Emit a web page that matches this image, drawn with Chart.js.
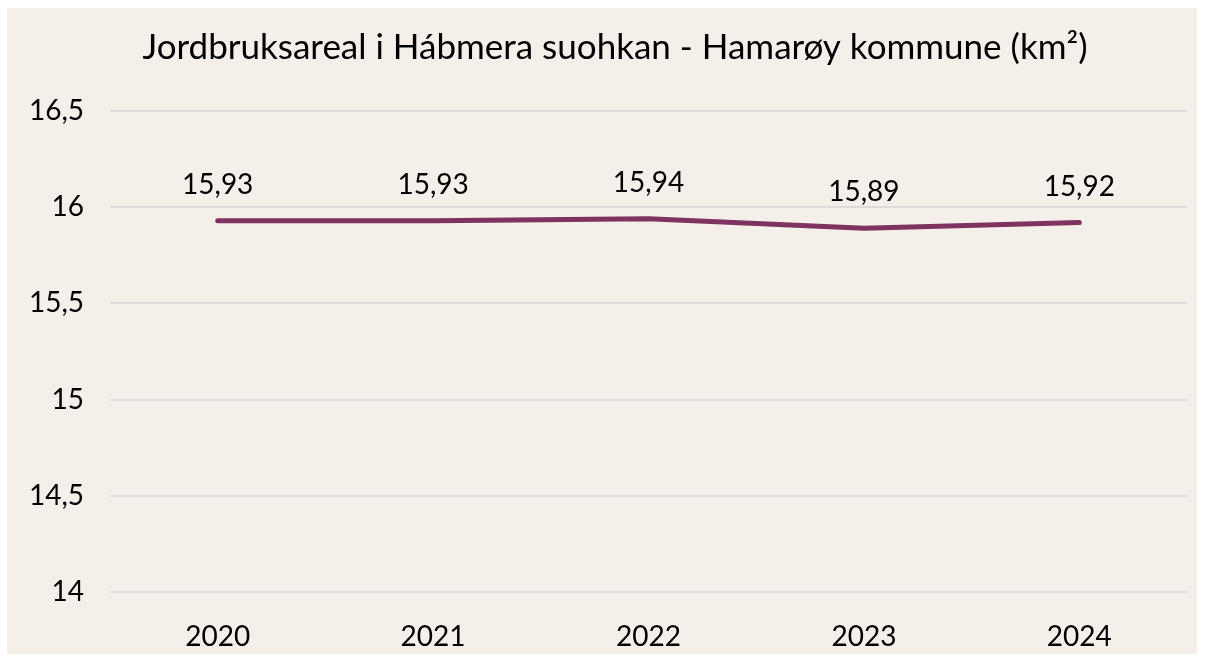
<!DOCTYPE html>
<html>
<head>
<meta charset="utf-8">
<script src="https://cdn.jsdelivr.net/npm/chart.js@4"></script>
<style>
  html, body { margin: 0; padding: 0; background: #ffffff; }
  #wrap { position: absolute; left: 7px; top: 8px; width: 1190px; height: 646px; background: #f5efe9; }
</style>
</head>
<body>
<div id="wrap"><canvas id="chart"></canvas></div>
<script>
const years = ['2020', '2021', '2022', '2023', '2024'];
const areaKm2 = [15.93, 15.93, 15.94, 15.89, 15.92];
const tickLabels = ['14', '14,5', '15', '15,5', '16', '16,5'];
const titleText = 'Jordbruksareal i Hábmera suohkan - Hamarøy kommune (km²)';

const fmt = v => v.toFixed(2).replace('.', ',');

// value above each point + title (title sits a bit right of centre)
const valueLabels = {
  id: 'valueLabels',
  afterDatasetsDraw(chart) {
    const ctx = chart.ctx;
    const meta = chart.getDatasetMeta(0);
    ctx.save();
    ctx.fillStyle = '#000';
    ctx.textAlign = 'center';
    ctx.textBaseline = 'middle';
    ctx.font = '28px Lato';
    meta.data.forEach((pt, i) => {
      ctx.fillText(fmt(areaKm2[i]), pt.x, pt.y - 36);
    });
    ctx.font = '35px Lato';
    ctx.fillText(titleText, chart.width / 2 + 13, 40);
    ctx.restore();
  }
};

document.addEventListener('DOMContentLoaded', function () {
  const ctx = document.getElementById('chart').getContext('2d');
  new Chart(ctx, {
    type: 'line',
    data: {
      labels: years,
      datasets: [{
        data: areaKm2,
        borderColor: '#7e3360',
        borderWidth: 5,
        borderCapStyle: 'round',
        pointRadius: 0,
        tension: 0
      }]
    },
    options: {
      responsive: true,
      maintainAspectRatio: false,
      animation: false,
      layout: { padding: { left: 0, right: 10, top: 103, bottom: 0 } },
      plugins: {
        legend: { display: false },
        tooltip: { enabled: false },
        title: { display: false }
      },
      scales: {
        x: {
          offset: true,
          grid: { display: false },
          border: { display: false },
          ticks: { color: '#000', font: { family: 'Lato', size: 28 }, padding: 20 },
          afterFit: axis => { axis.height = 62; }
        },
        y: {
          min: 14,
          max: 16.5,
          grid: { color: '#dedbd8', lineWidth: 2, drawTicks: false },
          border: { display: false },
          ticks: {
            stepSize: 0.5,
            color: '#000',
            padding: 26,
            font: { family: 'Lato', size: 28 },
            callback: (value, index) => tickLabels[index]
          },
          afterFit: axis => { axis.width = 103; }
        }
      }
    },
    plugins: [valueLabels]
  });
});
</script>
</body>
</html>
